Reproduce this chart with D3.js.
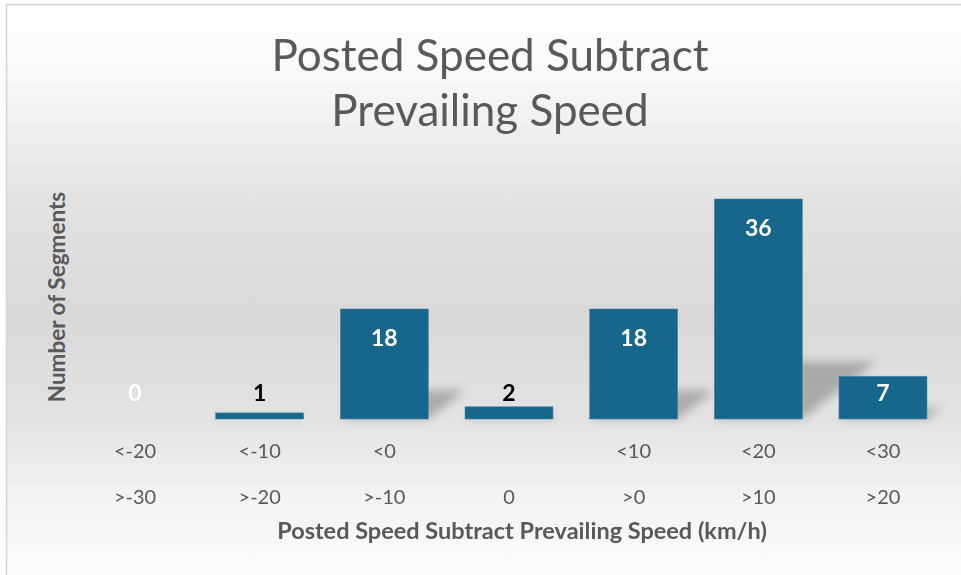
<!DOCTYPE html>
<html>
<head>
<meta charset="utf-8">
<script src="https://cdn.jsdelivr.net/npm/d3@7/dist/d3.min.js"></script>
<style>
  html, body { margin: 0; padding: 0; background: #ffffff; }
  svg { display: block; }
</style>
</head>
<body>
<svg id="chart" width="961" height="575"></svg>
<script>
// Speed-difference bins (two-line category labels) and segment counts
const upperLabels = ["<-20", "<-10", "<0", "", "<10", "<20", "<30"];
const lowerLabels = [">-30", ">-20", ">-10", "0", ">0", ">10", ">20"];
const counts = [0, 1, 18, 2, 18, 36, 7];

const titleLines = ["Posted Speed Subtract", "Prevailing Speed"];
const yAxisTitle = "Number of Segments";
const xAxisTitle = "Posted Speed Subtract Prevailing Speed (km/h)";

const W = 961, H = 575;
const FONT = "Lato, 'Open Sans', sans-serif";
const svg = d3.select("#chart");
const defs = svg.append("defs");

// Vertical white-grey-white backdrop
const bg = defs.append("linearGradient")
  .attr("id", "bgGrad").attr("x1", 0).attr("y1", 0).attr("x2", 0).attr("y2", 1);
[[0, "#ffffff"], [0.12, "#f9f9f9"], [0.35, "#e2e2e2"], [0.55, "#d9d9d9"],
 [0.72, "#e3e3e3"], [0.85, "#f2f2f2"], [1, "#fdfdfd"]]
  .forEach(([o, c]) => bg.append("stop").attr("offset", o).attr("stop-color", c));

// Soft blur for the perspective shadows
defs.append("filter").attr("id", "shadowBlur")
  .attr("x", "-50%").attr("y", "-50%").attr("width", "200%").attr("height", "200%")
  .append("feGaussianBlur").attr("stdDeviation", 5);

// Chart area with its top/left frame
svg.append("rect").attr("x", 6).attr("y", 4).attr("width", W).attr("height", H)
  .attr("fill", "url(#bgGrad)");
svg.append("path").attr("d", `M6.5,${H} V4.5 H${W}`)
  .attr("fill", "none").attr("stroke", "#d4d4d4").attr("stroke-width", 1.5);

const data = counts.map((v, i) => ({ i, v, up: upperLabels[i], low: lowerLabels[i] }));

const x = d3.scaleBand()
  .domain(data.map(d => d.i))
  .range([72.7, 945.3])
  .paddingInner(0.294)
  .paddingOuter(0.147);

const y = d3.scaleLinear().domain([0, 36]).range([419, 199]);

const plot = svg.append("g");

// Shadows: bar shapes flattened and sheared up-right from the baseline
const base = y(0);
plot.append("g").attr("filter", "url(#shadowBlur)")
  .selectAll("rect").data(data.filter(d => d.v > 0)).join("rect")
  .attr("x", d => x(d.i))
  .attr("y", d => y(d.v))
  .attr("width", x.bandwidth())
  .attr("height", d => base - y(d.v))
  .attr("transform", `translate(0,${base}) skewX(-52) scale(1,0.26) translate(0,${-base})`)
  .attr("fill", "#000000")
  .attr("opacity", 0.24);

// Bars
plot.append("g")
  .selectAll("rect").data(data).join("rect")
  .attr("x", d => x(d.i))
  .attr("y", d => y(d.v))
  .attr("width", x.bandwidth())
  .attr("height", d => base - y(d.v))
  .attr("fill", "#17668b")
  .attr("stroke", "#4f88a6")
  .attr("stroke-width", 0.6);

// Value labels at the inside end, kept clear of the baseline
plot.append("g")
  .selectAll("text").data(data).join("text")
  .attr("x", d => x(d.i) + x.bandwidth() / 2)
  .attr("y", d => Math.min(y(d.v) + 29, base - 26))
  .attr("dy", "0.36em")
  .attr("text-anchor", "middle")
  .attr("font-family", FONT)
  .attr("font-weight", 700)
  .attr("font-size", 23)
  .attr("fill", d => (d.v > 0 && d.v < 5) ? "#000000" : "#ffffff")
  .text(d => d.v);

// Category axis with two-line tick labels
const xAxis = d3.axisBottom(x).tickSize(0).tickFormat(() => "");
const gx = svg.append("g").attr("transform", `translate(0,${base})`).call(xAxis);
gx.select(".domain").remove();
gx.selectAll(".tick text").remove();
gx.selectAll(".tick").each(function (i) {
  const t = d3.select(this).append("text")
    .attr("text-anchor", "middle")
    .attr("font-family", FONT)
    .attr("font-size", 20)
    .attr("fill", "#595959");
  t.append("tspan").attr("x", 0).attr("y", 39).text(upperLabels[i]);
  t.append("tspan").attr("x", 0).attr("y", 85).text(lowerLabels[i]);
});

// Axis titles
svg.append("text")
  .attr("transform", `translate(65,297) rotate(-90)`)
  .attr("text-anchor", "middle")
  .attr("font-family", FONT)
  .attr("font-weight", 700)
  .attr("font-size", 22.5)
  .attr("fill", "#595959")
  .text(yAxisTitle);

svg.append("text")
  .attr("x", 522).attr("y", 539)
  .attr("text-anchor", "middle")
  .attr("font-family", FONT)
  .attr("font-weight", 700)
  .attr("font-size", 23.5)
  .attr("fill", "#595959")
  .text(xAxisTitle);

// Chart title
svg.append("g").selectAll("text").data(titleLines).join("text")
  .attr("x", 490)
  .attr("y", (d, k) => 71 + k * 55)
  .attr("text-anchor", "middle")
  .attr("font-family", FONT)
  .attr("font-size", 44)
  .attr("fill", "#595959")
  .text(d => d);
</script>
</body>
</html>
